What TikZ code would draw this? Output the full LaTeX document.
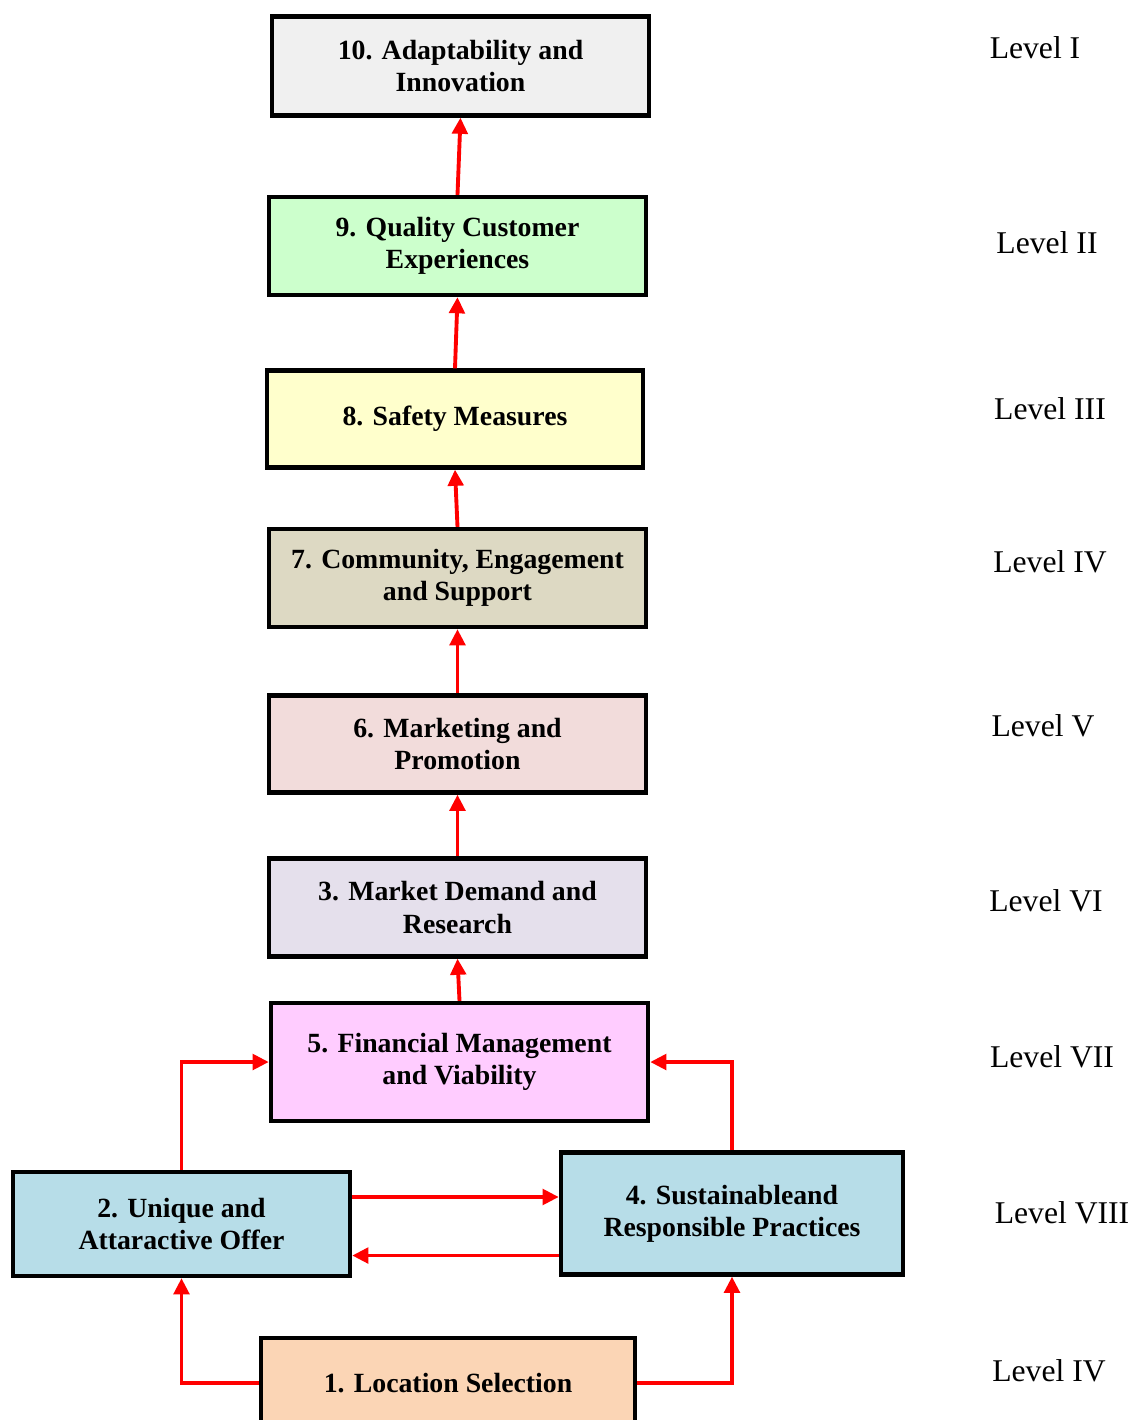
\documentclass[tikz,border=0pt]{standalone}
\usepackage{fontspec}
\setmainfont{Liberation Serif}
\usepackage{tikz}
\usetikzlibrary{arrows.meta}

\definecolor{cTen}{HTML}{F0F0F0}
\definecolor{cNine}{HTML}{CCFFCC}
\definecolor{cEight}{HTML}{FFFFCC}
\definecolor{cSeven}{HTML}{DDD9C3}
\definecolor{cSix}{HTML}{F2DCDB}
\definecolor{cThree}{HTML}{E5E0EC}
\definecolor{cFive}{HTML}{FFCCFF}
\definecolor{cBlue}{HTML}{B7DDE8}
\definecolor{cOne}{HTML}{FBD5B5}

\begin{document}
\begin{tikzpicture}[x=0.01cm, y=-0.01cm,
  box/.style={draw, line width=1.2pt, align=center, inner sep=0pt,
              font=\fontsize{7.9}{9.2}\selectfont\bfseries},
  lvl/.style={font=\fontsize{9}{10}\selectfont},
  link/.style={red, line width=1.1pt, -{Triangle[length=4.6pt,width=4.4pt]}}]
\useasboundingbox (0,0) rectangle (1135,1420);

% boxes
\node[box, fill=cTen,   minimum width=3.77cm, minimum height=0.99cm] (b10) at (460.5,66)   {10. Adaptability and\\Innovation};
\node[box, fill=cNine,  minimum width=3.77cm, minimum height=0.98cm] (b9)  at (457.5,246)  {9. Quality Customer\\Experiences};
\node[box, fill=cEight, minimum width=3.76cm, minimum height=0.97cm] (b8)  at (455,419)    {8. Safety Measures};
\node[box, fill=cSeven, minimum width=3.77cm, minimum height=0.98cm] (b7)  at (457.5,578)  {7. Community, Engagement\\and Support};
\node[box, fill=cSix,   minimum width=3.77cm, minimum height=0.97cm] (b6)  at (457.5,744)  {6. Marketing and\\Promotion};
\node[box, fill=cThree, minimum width=3.77cm, minimum height=0.98cm] (b3)  at (457.5,907.5) {3. Market Demand and\\Research};
\node[box, fill=cFive,  minimum width=3.77cm, minimum height=1.18cm] (b5)  at (459.5,1062) {5. Financial Management\\and Viability};
\node[box, fill=cBlue,  minimum width=3.37cm, minimum height=1.04cm] (b2)  at (181.5,1224) {2. Unique and\\Attaractive Offer};
\node[box, fill=cBlue,  minimum width=3.42cm, minimum height=1.22cm] (b4)  at (732,1213.5) {4. Sustainableand\\Responsible Practices};
\node[box, fill=cOne,   minimum width=3.74cm, minimum height=0.90cm] (b1)  at (448,1383)   {1. Location Selection};

% levels
\node[lvl] (lv1) at (1035,48)   {Level I};
\node[lvl] (lv2) at (1047,243)  {Level II};
\node[lvl] (lv3) at (1050,409)  {Level III};
\node[lvl] (lv4) at (1050,562)  {Level IV};
\node[lvl] (lv5) at (1043,726)  {Level V};
\node[lvl] (lv6) at (1046,901)  {Level VI};
\node[lvl] (lv7) at (1052,1057) {Level VII};
\node[lvl] (lv8) at (1062,1213) {Level VIII};
\node[lvl] (lv9) at (1049,1371) {Level IV};

%------------------------------------------------------
% red arrows
\draw[link] (b9.north) -- (b10.south);
\draw[link] (b8.north) -- (b9.south);
\draw[link] (b7.north) -- (b8.south);
\draw[link] (b6.north) -- (b7.south);
\draw[link] (b3.north) -- (b6.south);
\draw[link] (b5.north) -- (b3.south);

\draw[link] (b2.north) |- (b5.west);
\draw[link] (b4.north) |- (b5.east);

\coordinate (p1) at ([yshift=0.27cm]b2.east);
\coordinate (p2) at ([yshift=-0.42cm]b4.west);
\draw[link] (p1) -- (p1 -| b4.west);
\draw[link] (p2) -- (p2 -| b2.east);

\draw[link] (b1.west) -| (b2.south);
\draw[link] (b1.east) -| (b4.south);
\end{tikzpicture}
\end{document}
